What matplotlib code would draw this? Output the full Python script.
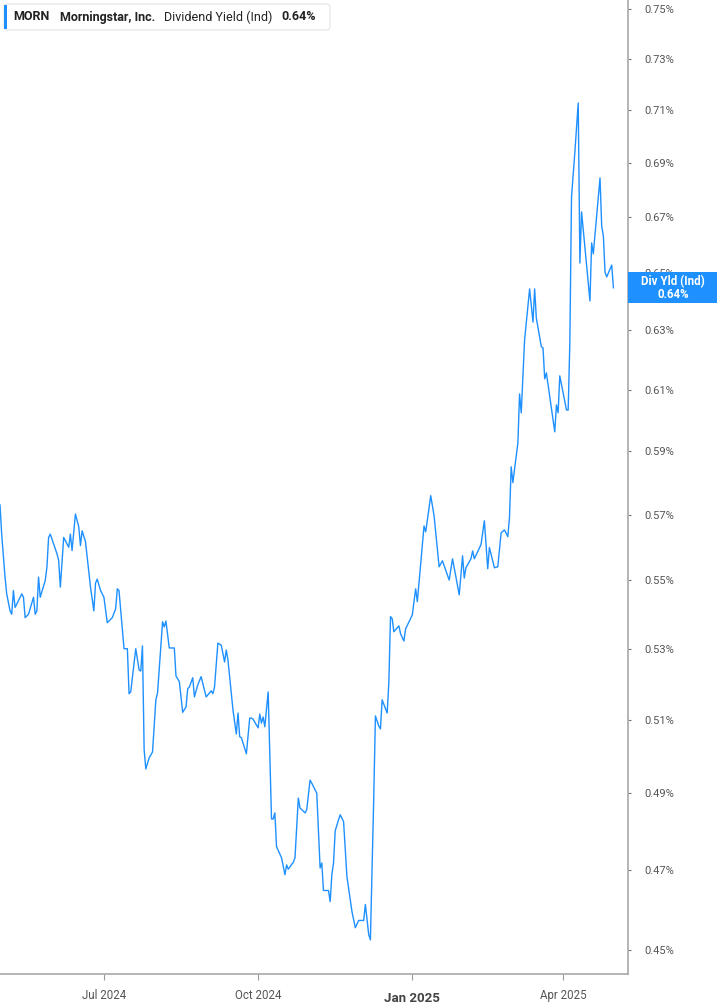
import matplotlib
matplotlib.use("Agg")
import matplotlib.pyplot as plt
import matplotlib.dates as mdates
import pandas as pd
from matplotlib.patches import FancyBboxPatch, Rectangle

plt.rcParams['font.family'] = ['Roboto', 'DejaVu Sans']

# MORN dividend yield (%)
dates = [
    "2024-04-30", "2024-05-01", "2024-05-03", "2024-05-04", "2024-05-06", "2024-05-07", "2024-05-08",
    "2024-05-09", "2024-05-11", "2024-05-13", "2024-05-14", "2024-05-15", "2024-05-17", "2024-05-20",
    "2024-05-21", "2024-05-22", "2024-05-23", "2024-05-24", "2024-05-27", "2024-05-28", "2024-05-29",
    "2024-05-30", "2024-06-03", "2024-06-04", "2024-06-05", "2024-06-07", "2024-06-09", "2024-06-10",
    "2024-06-11", "2024-06-12", "2024-06-14", "2024-06-16", "2024-06-17", "2024-06-18", "2024-06-20",
    "2024-06-23", "2024-06-25", "2024-06-26", "2024-06-27", "2024-06-29", "2024-07-01", "2024-07-03",
    "2024-07-06", "2024-07-08", "2024-07-09", "2024-07-10", "2024-07-13", "2024-07-15", "2024-07-16",
    "2024-07-17", "2024-07-20", "2024-07-22", "2024-07-23", "2024-07-24", "2024-07-25", "2024-07-26",
    "2024-07-28", "2024-07-30", "2024-08-01", "2024-08-02", "2024-08-05", "2024-08-06", "2024-08-07",
    "2024-08-09", "2024-08-12", "2024-08-13", "2024-08-15", "2024-08-17", "2024-08-19", "2024-08-20",
    "2024-08-21", "2024-08-23", "2024-08-24", "2024-08-26", "2024-08-28", "2024-08-31", "2024-09-03",
    "2024-09-04", "2024-09-05", "2024-09-07", "2024-09-09", "2024-09-11", "2024-09-12", "2024-09-13",
    "2024-09-16", "2024-09-18", "2024-09-19", "2024-09-20", "2024-09-21", "2024-09-24", "2024-09-26",
    "2024-09-27", "2024-09-28", "2024-10-01", "2024-10-02", "2024-10-03", "2024-10-04", "2024-10-05",
    "2024-10-07", "2024-10-09", "2024-10-10", "2024-10-11", "2024-10-12", "2024-10-15", "2024-10-17",
    "2024-10-18", "2024-10-19", "2024-10-22", "2024-10-23", "2024-10-25", "2024-10-26", "2024-10-29",
    "2024-10-30", "2024-11-01", "2024-11-02", "2024-11-05", "2024-11-07", "2024-11-08", "2024-11-09",
    "2024-11-12", "2024-11-13", "2024-11-14", "2024-11-15", "2024-11-16", "2024-11-18", "2024-11-19",
    "2024-11-21", "2024-11-23", "2024-11-26", "2024-11-28", "2024-11-30", "2024-12-03", "2024-12-04",
    "2024-12-06", "2024-12-07", "2024-12-09", "2024-12-10", "2024-12-12", "2024-12-13", "2024-12-14",
    "2024-12-17", "2024-12-18", "2024-12-19", "2024-12-20", "2024-12-21", "2024-12-24", "2024-12-25",
    "2024-12-27", "2024-12-28", "2025-01-01", "2025-01-03", "2025-01-04", "2025-01-08", "2025-01-09",
    "2025-01-12", "2025-01-14", "2025-01-16", "2025-01-17", "2025-01-19", "2025-01-23", "2025-01-25",
    "2025-01-29", "2025-01-31", "2025-02-01", "2025-02-02", "2025-02-05", "2025-02-06", "2025-02-07",
    "2025-02-11", "2025-02-13", "2025-02-15", "2025-02-16", "2025-02-19", "2025-02-21", "2025-02-23",
    "2025-02-25", "2025-02-27", "2025-02-28", "2025-03-01", "2025-03-02", "2025-03-05", "2025-03-06",
    "2025-03-07", "2025-03-09", "2025-03-12", "2025-03-14", "2025-03-15", "2025-03-16", "2025-03-19",
    "2025-03-20", "2025-03-21", "2025-03-22", "2025-03-27", "2025-03-28", "2025-03-29", "2025-03-30",
    "2025-04-03", "2025-04-04", "2025-04-05", "2025-04-06", "2025-04-08", "2025-04-10", "2025-04-11",
    "2025-04-12", "2025-04-13", "2025-04-17", "2025-04-18", "2025-04-19", "2025-04-23", "2025-04-24",
    "2025-04-25", "2025-04-26", "2025-04-27", "2025-04-30", "2025-05-01",
]
yield_pct = [
    0.573, 0.564, 0.551, 0.546, 0.541, 0.540, 0.547,
    0.542, 0.544, 0.546, 0.545, 0.539, 0.540, 0.545,
    0.540, 0.541, 0.551, 0.545, 0.550, 0.554, 0.563,
    0.564, 0.558, 0.556, 0.548, 0.563, 0.561, 0.560,
    0.564, 0.559, 0.5702, 0.5662, 0.5605, 0.565, 0.5617,
    0.548, 0.541, 0.5492, 0.5504, 0.547, 0.545, 0.5375,
    0.539, 0.5416, 0.5475, 0.547, 0.530, 0.530, 0.5172,
    0.5177, 0.530, 0.5239, 0.5236, 0.5308, 0.5017, 0.4965,
    0.4995, 0.5011, 0.5155, 0.5174, 0.5378, 0.5363, 0.538,
    0.5302, 0.5302, 0.5222, 0.5206, 0.512, 0.5135, 0.5186,
    0.5191, 0.5217, 0.5163, 0.5197, 0.522, 0.5163, 0.518,
    0.5172, 0.5191, 0.5316, 0.531, 0.5262, 0.5296, 0.5268,
    0.5127, 0.506, 0.5118, 0.5053, 0.505, 0.5006, 0.5104,
    0.5104, 0.5101, 0.5077, 0.5115, 0.509, 0.5107, 0.508,
    0.5177, 0.4832, 0.4832, 0.4848, 0.476, 0.4731, 0.4688,
    0.4713, 0.4702, 0.472, 0.4731, 0.4887, 0.4861, 0.4848,
    0.4856, 0.4935, 0.4927, 0.490, 0.4705, 0.4718, 0.4648,
    0.4648, 0.462, 0.4688, 0.4718, 0.4801, 0.483, 0.4843,
    0.4825, 0.4683, 0.4595, 0.4555, 0.4573, 0.4573, 0.4613,
    0.4538, 0.4525, 0.489, 0.511, 0.5082, 0.5074, 0.5155,
    0.5118, 0.5203, 0.5393, 0.5387, 0.5349, 0.5366, 0.5343,
    0.5322, 0.5357, 0.5398, 0.5475, 0.5437, 0.5665, 0.5647,
    0.5759, 0.5696, 0.5592, 0.5541, 0.5559, 0.5501, 0.5565,
    0.5457, 0.5574, 0.5507, 0.5538, 0.5565, 0.5589, 0.5565,
    0.5608, 0.5681, 0.5535, 0.5599, 0.5538, 0.5541, 0.5644,
    0.5653, 0.5632, 0.5693, 0.585, 0.580, 0.5926, 0.6086,
    0.6024, 0.6267, 0.6443, 0.6328, 0.6443, 0.6342, 0.6244,
    0.6240, 0.6136, 0.6156, 0.5962, 0.605, 0.6024, 0.6146,
    0.6033, 0.6033, 0.6258, 0.6773, 0.694, 0.7127, 0.6534,
    0.6718, 0.6653, 0.6401, 0.6606, 0.6567, 0.6843, 0.6667,
    0.6631, 0.6502, 0.6485, 0.6527, 0.6447,
]
tick_dates = ["2024-07-01", "2024-10-01", "2025-01-01", "2025-04-01"]
tick_labels = ["Jul 2024", "Oct 2024", "Jan 2025", "Apr 2025"]
y_ticks = [0.45, 0.47, 0.49, 0.51, 0.53, 0.55, 0.57, 0.59, 0.61, 0.63, 0.65, 0.67, 0.69, 0.71, 0.73, 0.75]

blue = "#1e90ff"
x = pd.to_datetime(dates)

fig = plt.figure(figsize=(7.17, 10.05), dpi=100)
ax = fig.add_axes([0, 31 / 1005, 628 / 717, 974 / 1005])
ax.plot(x, yield_pct, color=blue, lw=1.0)

ax.set_yscale("log")
ax.set_ylim(0.4442, 0.7537)
ax.set_xlim(pd.Timestamp("2024-04-30"), pd.Timestamp("2024-04-30") + pd.Timedelta(days=374.7))

ax.yaxis.tick_right()
ax.set_yticks(y_ticks)
ax.set_yticklabels(["{:.2f}%".format(v) for v in y_ticks])
ax.yaxis.set_minor_locator(matplotlib.ticker.NullLocator())
ax.tick_params(axis="y", length=2.5, width=0.8, color="#777777", pad=9, labelsize=8, labelcolor="#555555")

ax.set_xticks(pd.to_datetime(tick_dates))
ax.set_xticklabels(tick_labels)
ax.tick_params(axis="x", length=4, width=0.8, color="#999999", pad=7, labelsize=8.3, labelcolor="#555555")
for lab in ax.get_xticklabels():
    if lab.get_text() == "Jan 2025":
        lab.set_fontweight("bold")
        lab.set_fontsize(9.5)
        lab.set_color("#444444")
        lab.set_y(-0.003)

for s in ["left", "top"]:
    ax.spines[s].set_visible(False)
for s in ["right", "bottom"]:
    ax.spines[s].set_color("#a8a8a8")
    ax.spines[s].set_linewidth(1.2)

# legend box at top left
W, H = 717.0, 1005.0
box = FancyBboxPatch((4 / W, 1 - 30 / H), 326 / W, 26 / H, boxstyle="round,pad=0,rounding_size=0.004",
                     transform=fig.transFigure, facecolor="white", edgecolor="#e4e4e4", lw=0.8, zorder=5)
fig.patches.append(box)
fig.patches.append(Rectangle((4 / W, 1 - 29 / H), 3 / W, 24 / H, transform=fig.transFigure,
                             facecolor=blue, edgecolor="none", zorder=6))
ty = 1 - 17 / H
fig.text(13 / W, ty, "MORN", fontsize=9, fontweight="bold", color="#222222", va="center", zorder=7)
fig.text(60 / W, ty, "Morningstar, Inc.", fontsize=9, fontweight="bold", color="#222222", va="center", zorder=7)
fig.text(164 / W, ty, "Dividend Yield (Ind)", fontsize=9, color="#222222", va="center", zorder=7)
fig.text(281 / W, ty, "0.64%", fontsize=9, fontweight="bold", color="#222222", va="center", zorder=7)

# last value tag on the right axis
fig.canvas.draw()
last_y = ax.transData.transform((mdates.date2num(x[-1]), yield_pct[-1]))[1] / H
tag_h = 31 / H
fig.patches.append(Rectangle((628 / W, last_y - tag_h / 2), 89 / W, tag_h, transform=fig.transFigure,
                             facecolor=blue, edgecolor="none", zorder=8))
fig.text(673 / W, last_y + 6.5 / H, "Div Yld (Ind)", fontsize=8.3, fontweight="bold", color="white",
         ha="center", va="center", zorder=9)
fig.text(673 / W, last_y - 7 / H, "0.64%", fontsize=8.3, fontweight="bold", color="white",
         ha="center", va="center", zorder=9)

fig.savefig("out.png", dpi=100)
